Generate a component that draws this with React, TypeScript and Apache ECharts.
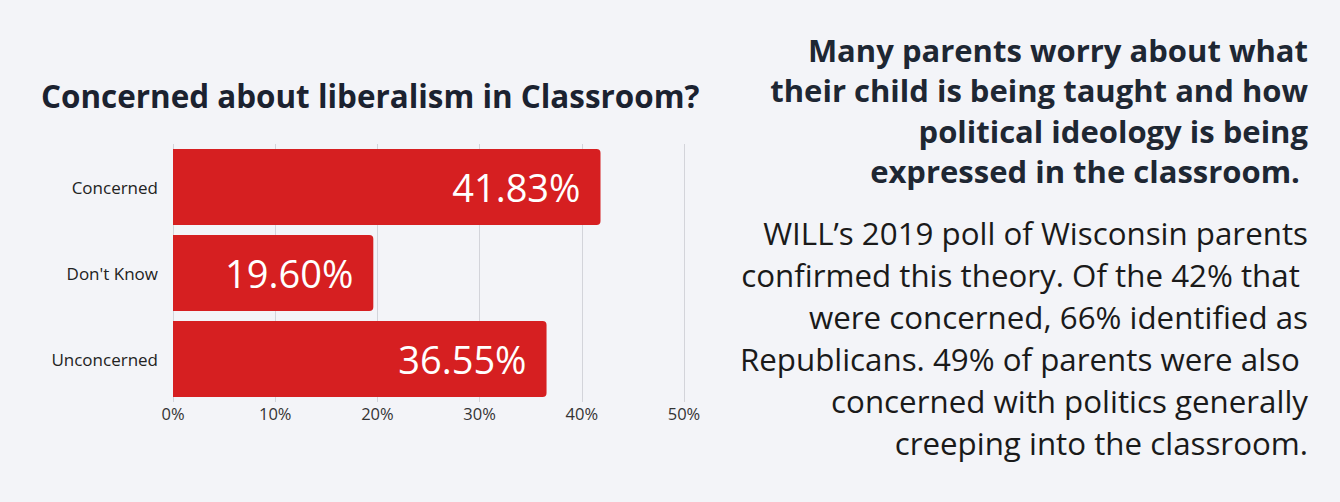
import React, { useEffect, useRef } from "react";
import * as echarts from "echarts";

const categories = ["Concerned", "Don't Know", "Unconcerned"];
const values = [41.83, 19.6, 36.55];
const chartTitle = "Concerned about liberalism in Classroom?";
const headingLines = [
  "Many parents worry about what",
  "their child is being taught and how",
  "political ideology is being",
  "expressed in the classroom. ",
];
const bodyLines = [
  "WILL\u2019s 2019 poll of Wisconsin parents",
  "confirmed this theory. Of the 42% that ",
  "were concerned, 66% identified as",
  "Republicans. 49% of parents were also ",
  "concerned with politics generally",
  "creeping into the classroom.",
];

const FONT = "'Open Sans', 'Noto Sans', sans-serif";

export default function App() {
  const ref = useRef<HTMLDivElement>(null);
  useEffect(() => {
    const chart = echarts.init(ref.current!, null, { renderer: "svg" });
    const graphic: any[] = [];
    headingLines.forEach((t, i) => {
      graphic.push({
        type: "text",
        style: {
          text: t,
          x: 1308,
          y: 50 + i * 40.4,
          align: "right",
          verticalAlign: "middle",
          fill: "#1e2733",
          fontFamily: FONT,
          fontSize: 31,
          fontWeight: "bold",
        },
      });
    });
    bodyLines.forEach((t, i) => {
      graphic.push({
        type: "text",
        style: {
          text: t,
          x: 1308,
          y: 233 + i * 42,
          align: "right",
          verticalAlign: "middle",
          fill: "#1a1a1a",
          fontFamily: FONT,
          fontSize: 31.3,
        },
      });
    });
    chart.setOption({
      animation: false,
      backgroundColor: "#f3f4f8",
      textStyle: { fontFamily: FONT },
      title: {
        text: chartTitle,
        left: 36,
        top: 75,
        textStyle: { fontFamily: FONT, fontSize: 31.4, fontWeight: "bold", color: "#1b2230" },
      },
      grid: { left: 173, right: 656, top: 144, height: 258, containLabel: false },
      xAxis: {
        type: "value",
        min: 0,
        max: 50,
        interval: 10,
        axisLine: { show: false },
        axisTick: { show: false },
        axisLabel: { formatter: "{value}%", fontSize: 16.5, color: "#333", margin: 3, fontFamily: FONT },
        splitLine: { lineStyle: { color: "#d3d4da", width: 1 } },
      },
      yAxis: {
        type: "category",
        inverse: true,
        data: categories,
        axisLine: { show: false },
        axisTick: { show: false },
        axisLabel: { fontSize: 17, color: "#222", margin: 15, fontFamily: FONT },
      },
      series: [
        {
          type: "bar",
          data: values,
          barWidth: 76,
          itemStyle: { color: "#d61f21", borderRadius: [0, 4, 4, 0] },
          label: {
            show: true,
            position: "insideRight",
            distance: 20,
            color: "#fff",
            fontSize: 38,
            fontFamily: FONT,
            formatter: (p: any) => p.value.toFixed(2) + "%",
          },
        },
      ],
      graphic,
    });
    return () => chart.dispose();
  }, []);
  return (
    <div
      ref={ref}
      style={{ position: "fixed", left: 0, top: 0, width: 1340, height: 502 }}
    />
  );
}
